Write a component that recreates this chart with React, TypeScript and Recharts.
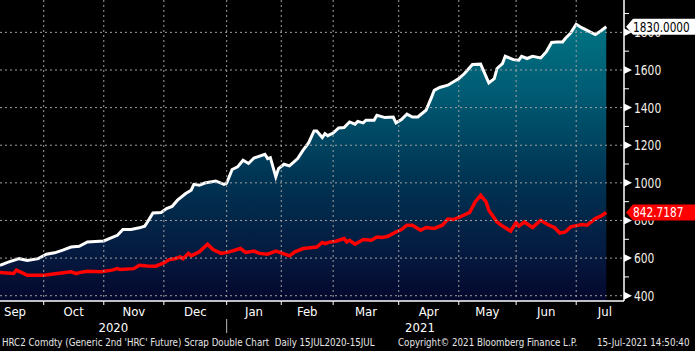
import React from 'react';
import { ComposedChart, Area, Line, XAxis, YAxis } from 'recharts';

// Trading-day index (Sep 2020 -> Jul 2021)
const hrcDays = [2, 5, 9, 12, 16, 19, 22, 25, 28, 31, 34, 40, 42, 45, 47, 50, 53, 55, 56, 58, 61, 63, 65, 67, 70, 72, 73, 75, 77, 81, 84, 85, 87, 89, 91, 93, 95, 99, 100, 101, 103, 104, 106, 108, 111, 113, 115, 117, 118, 120, 121, 122, 124, 126, 128, 130, 132, 133, 135, 136, 139, 140, 143, 146, 147, 149, 151, 153, 155, 158, 160, 161, 163, 166, 169, 170, 172, 175, 178, 181, 183, 184, 186, 187, 190, 192, 193, 195, 197, 200, 202, 204, 206, 208, 209, 211, 213, 215, 220, 222, 224];
const hrcValues = [562, 579, 597, 588, 597, 621, 628, 642, 659, 663, 686, 691, 704, 721, 752, 752, 761, 770, 792, 840, 842, 863, 875, 908, 943, 961, 992, 987, 999, 1010, 992, 999, 1071, 1085, 1120, 1103, 1132, 1152, 1129, 1134, 1032, 1076, 1099, 1090, 1129, 1174, 1212, 1276, 1276, 1241, 1262, 1251, 1265, 1292, 1294, 1324, 1312, 1327, 1319, 1333, 1333, 1359, 1347, 1350, 1319, 1337, 1365, 1350, 1350, 1386, 1454, 1492, 1507, 1519, 1545, 1554, 1580, 1629, 1631, 1531, 1554, 1608, 1634, 1673, 1655, 1652, 1673, 1661, 1673, 1664, 1696, 1746, 1749, 1749, 1767, 1797, 1843, 1825, 1788, 1807, 1830];

const scrapDays = [2, 7, 8, 10, 12, 18, 23, 28, 30, 31, 34, 39, 43, 45, 46, 51, 53, 56, 59, 62, 64, 66, 68, 69, 71, 72, 75, 78, 80, 83, 86, 90, 92, 95, 97, 100, 103, 105, 108, 110, 113, 118, 120, 121, 123, 125, 128, 129, 130, 132, 135, 138, 140, 142, 144, 147, 149, 151, 153, 156, 158, 161, 164, 166, 168, 170, 174, 176, 178, 180, 181, 184, 186, 189, 191, 192, 194, 197, 200, 203, 205, 207, 209, 211, 215, 217, 220, 222, 224];
const scrapValues = [523, 518, 536, 523, 509, 509, 518, 527, 518, 523, 530, 527, 536, 544, 539, 544, 562, 558, 557, 574, 592, 597, 606, 597, 625, 612, 633, 674, 646, 625, 633, 651, 630, 637, 625, 621, 637, 628, 612, 633, 651, 659, 683, 677, 686, 690, 704, 686, 695, 674, 699, 695, 712, 709, 716, 739, 752, 775, 775, 748, 763, 758, 775, 807, 805, 816, 843, 899, 934, 899, 854, 792, 770, 744, 789, 770, 792, 763, 801, 775, 763, 733, 739, 766, 779, 775, 810, 823, 842.7187];

const lastHrc = 1830.0;
const lastScrap = 842.7187;

const monthStarts = [18, 40, 62, 85, 105, 124, 148, 170, 191, 213];
const yearBoundary = 85;
const monthLabelPos = [7.5, 29, 51, 73.5, 95, 114.5, 136, 159, 180.5, 202, 223.5];
const monthNames = ['Sep', 'Oct', 'Nov', 'Dec', 'Jan', 'Feb', 'Mar', 'Apr', 'May', 'Jun', 'Jul'];
const yearPos = [43.5, 155.8];
const yearNames = ['2020', '2021'];

const yMajor = [400, 600, 800, 1000, 1200, 1400, 1600, 1800];
const yMinor = [500, 700, 900, 1100, 1300, 1500, 1700, 1900];

const footerLeft = "HRC2 Comdty (Generic 2nd 'HRC' Future) Scrap Double Chart  Daily 15JUL2020-15JUL";
const footerMid = 'Copyright\u00A9 2021 Bloomberg Finance L.P.';
const footerRight = '15-Jul-2021 14:50:40';

const hrcData = hrcDays.map((d, i) => ({ d, v: hrcValues[i] }));
const scrapData = scrapDays.map((d, i) => ({ d, v: scrapValues[i] }));

const NARROW = "'Liberation Sans Narrow', 'DejaVu Sans Condensed', sans-serif";
const PLOT_LEFT = 0;
const PLOT_TOP = 0;
const GRID = { stroke: '#a0a0a0', strokeDasharray: '2 3', strokeWidth: 1 };
const X_DOMAIN: [number, number] = [2, 230.5];
const Y_DOMAIN: [number, number] = [372, 1972];
const MARGIN = { top: 0, right: 0, bottom: 13, left: 0 };

function YTick(props: any) {
  const { x, y, payload } = props;
  const v = payload.value;
  if (v === lastHrc || v === lastScrap) {
    const isHrc = v === lastHrc;
    const pts = `${x + 2},${y} ${x + 9},${y - 8} ${x + 80},${y - 8} ${x + 80},${y + 8} ${x + 9},${y + 8}`;
    const label = v.toFixed(4);
    return (
      <g>
        <polygon points={pts} fill={isHrc ? '#ffffff' : '#ff0000'} />
        <text
          x={x + 9}
          y={y + 5}
          fill={isHrc ? '#000000' : '#ffffff'}
          fontSize={13.5}
          fontFamily={NARROW}
          textLength={label.length * 6.3}
          lengthAdjust="spacingAndGlyphs"
        >
          {label}
        </text>
      </g>
    );
  }
  if (yMajor.includes(v)) {
    const label = String(v);
    return (
      <g>
        <line x1={PLOT_LEFT} x2={x} y1={y} y2={y} {...GRID} />
        <polygon points={`${x},${y - 4} ${x + 8},${y} ${x},${y + 4}`} fill="#ffffff" />
        <text
          x={x + 10}
          y={y + 5}
          fill="#f4f0e6"
          fontSize={13.5}
          fontFamily={NARROW}
          textLength={label.length * 6.8}
          lengthAdjust="spacingAndGlyphs"
        >
          {label}
        </text>
      </g>
    );
  }
  return <line x1={x} x2={x + 5} y1={y} y2={y} stroke="#ffffff" strokeWidth={1} />;
}

function XTick(props: any) {
  const { x, y, payload } = props;
  const v = payload.value;
  const mi = monthLabelPos.indexOf(v);
  if (mi >= 0) {
    return (
      <text x={x} y={y + 15} textAnchor="middle" fill="#ffffff" fontSize={13} fontFamily={NARROW}>
        {monthNames[mi]}
      </text>
    );
  }
  const yi = yearPos.indexOf(v);
  if (yi >= 0) {
    return (
      <text x={x} y={y + 31} textAnchor="middle" fill="#ffffff" fontSize={13} fontFamily={NARROW}>
        {yearNames[yi]}
      </text>
    );
  }
  return (
    <g>
      <line x1={x} x2={x} y1={PLOT_TOP} y2={y} {...GRID} />
      <line x1={x} x2={x} y1={y} y2={y + 4} stroke="#ffffff" strokeWidth={1} />
      {v === yearBoundary && <line x1={x} x2={x} y1={y + 18} y2={y + 32} stroke="#bbbbbb" strokeWidth={1} />}
    </g>
  );
}

const footerStyle: React.CSSProperties = {
  position: 'absolute',
  top: 336,
  fontFamily: NARROW,
  fontSize: 11,
  color: '#e6e6e6',
  whiteSpace: 'pre',
  lineHeight: '14px',
  transform: 'scaleX(0.88)',
  transformOrigin: '0 0',
  zIndex: 3,
};

export default function App() {
  const xTicks = [...monthStarts, ...monthLabelPos, ...yearPos];
  const yTicks = [...yMinor, ...yMajor, lastScrap, lastHrc];
  return (
    <div style={{ position: 'fixed', left: 0, top: 0, width: 695, height: 351, background: '#000', overflow: 'hidden' }}>
      {/* layer 1: gradient area fill */}
      <div style={{ position: 'absolute', left: 0, top: 0, zIndex: 1 }}>
        <ComposedChart width={695} height={351} margin={MARGIN}>
          <defs>
            <linearGradient id="hrcFill" gradientUnits="userSpaceOnUse" x1="0" y1="0" x2="0" y2="301">
              <stop offset="0" stopColor="#007c88" />
              <stop offset="0.3" stopColor="#005c74" />
              <stop offset="0.6" stopColor="#003352" />
              <stop offset="0.85" stopColor="#05193f" />
              <stop offset="1" stopColor="#05072c" />
            </linearGradient>
          </defs>
          <Area
            data={hrcData}
            dataKey="v"
            type="linear"
            stroke="none"
            fill="url(#hrcFill)"
            fillOpacity={1}
            isAnimationActive={false}
            dot={false}
            activeDot={false}
          />
          <XAxis type="number" dataKey="d" domain={X_DOMAIN} allowDataOverflow tick={false} tickLine={false} axisLine={false} height={37} />
          <YAxis orientation="right" type="number" domain={Y_DOMAIN} allowDataOverflow tick={false} tickLine={false} axisLine={false} width={71} />
        </ComposedChart>
      </div>
      {/* layer 2: grid, axes and lines */}
      <div style={{ position: 'absolute', left: 0, top: 0, zIndex: 2 }}>
        <ComposedChart width={695} height={351} margin={MARGIN}>
          <Line
            data={scrapData}
            dataKey="v"
            type="linear"
            stroke="#ff0000"
            strokeWidth={3.5}
            dot={false}
            activeDot={false}
            isAnimationActive={false}
          />
          <Line
            data={hrcData}
            dataKey="v"
            type="linear"
            stroke="#ffffff"
            strokeWidth={3}
            dot={false}
            activeDot={false}
            isAnimationActive={false}
          />
          <XAxis
            type="number"
            dataKey="d"
            domain={X_DOMAIN}
            allowDataOverflow
            ticks={xTicks}
            interval={0}
            tick={<XTick />}
            tickLine={false}
            tickSize={0}
            tickMargin={0}
            axisLine={{ stroke: '#ffffff', strokeWidth: 1.5 }}
            height={37}
          />
          <YAxis
            orientation="right"
            type="number"
            domain={Y_DOMAIN}
            allowDataOverflow
            ticks={yTicks}
            interval={0}
            tick={<YTick />}
            tickLine={false}
            tickSize={0}
            tickMargin={0}
            axisLine={{ stroke: '#ffffff', strokeWidth: 1.5 }}
            width={71}
          />
        </ComposedChart>
      </div>
      <div style={{ ...footerStyle, left: 2 }}>{footerLeft}</div>
      <div style={{ ...footerStyle, left: 398 }}>{footerMid}</div>
      <div style={{ ...footerStyle, left: 597 }}>{footerRight}</div>
    </div>
  );
}
